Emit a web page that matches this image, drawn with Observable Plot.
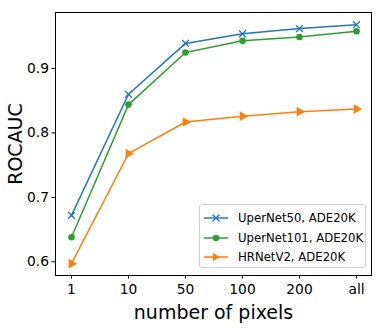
<!DOCTYPE html>
<html>
<head>
<meta charset="utf-8">
<script src="https://cdn.jsdelivr.net/npm/d3@7"></script>
<script src="https://cdn.jsdelivr.net/npm/@observablehq/plot@0.6"></script>
<style>
  body { margin: 0; background: #fff; }
  #wrap { position: relative; width: 382px; height: 332px; font-family: "DejaVu Sans", sans-serif; }
  #legend { position: absolute; left: 199px; top: 204px; width: 165px; height: 62px;
    border: 1px solid #d0d0d0; border-radius: 3px; background: rgba(255,255,255,0.85);
    font-family: "DejaVu Sans", sans-serif; font-size: 11.7px; color: #000; }
  .row { position: absolute; left: 4px; height: 16px; display: flex; align-items: center; }
  .row svg { display: block; }
  .row span { margin-left: 10px; white-space: nowrap; }
</style>
</head>
<body>
<div id="wrap"><div id="legend"></div></div>
<script>
const categories = ["1", "10", "50", "100", "200", "all"];
const seriesNames = ["UperNet50, ADE20K", "UperNet101, ADE20K", "HRNetV2, ADE20K"];
const uperNet50 = [0.672, 0.860, 0.939, 0.954, 0.962, 0.968];
const uperNet101 = [0.638, 0.844, 0.925, 0.943, 0.949, 0.958];
const hrNetV2 = [0.597, 0.768, 0.817, 0.826, 0.833, 0.837];
const yTicks = [0.6, 0.7, 0.8, 0.9];
const colors = ["#1f77b4", "#2ca02c", "#ff7f0e"];

const values = [uperNet50, uperNet101, hrNetV2];
const data = [];
values.forEach((vals, s) => vals.forEach((v, i) => data.push({series: seriesNames[s], cat: categories[i], v})));
const bySeries = s => data.filter(d => d.series === seriesNames[s]);

const chart = Plot.plot({
  width: 382, height: 332,
  marginLeft: 55, marginRight: 11, marginTop: 12, marginBottom: 57,
  style: {fontFamily: "DejaVu Sans, sans-serif", background: "#fff", color: "#000"},
  x: {type: "point", domain: categories, padding: 0.26, label: null},
  y: {domain: [0.5787, 0.987], label: null},
  marks: [
    Plot.axisY({ticks: yTicks, tickFormat: d3.format(".1f"), tickSize: 3.5, tickPadding: 3, fontSize: 13.8, label: null}),
    Plot.axisY({ticks: [], tickSize: 0, label: "ROCAUC", labelAnchor: "center", labelArrow: "none", labelOffset: 47, fontSize: 19}),
    Plot.axisX({tickSize: 3.5, tickPadding: 5, fontSize: 13.8, label: null}),
    Plot.axisX({ticks: [], tickSize: 0, label: "number of pixels", labelAnchor: "center", labelArrow: "none", labelOffset: 43, fontSize: 19}),
    ...[0, 1, 2].map(s => Plot.line(bySeries(s), {x: "cat", y: "v", stroke: colors[s], strokeWidth: 1.5})),
    Plot.dot(bySeries(0), {x: "cat", y: "v", symbol: "times", stroke: colors[0], strokeWidth: 1.3, r: 3.2}),
    Plot.dot(bySeries(1), {x: "cat", y: "v", symbol: "circle", fill: colors[1], stroke: "none", r: 3.3}),
    Plot.dot(bySeries(2), {x: "cat", y: "v", symbol: "triangle", fill: colors[2], stroke: "none", r: 3.6, rotate: 90}),
    Plot.frame({stroke: "#000", strokeWidth: 1})
  ]
});
document.getElementById("wrap").prepend(chart);

// legend
const legend = document.getElementById("legend");
const markerSvg = [
  c => `<line x1="8.5" y1="3.5" x2="15.5" y2="10.5" stroke="${c}" stroke-width="1.2"/><line x1="8.5" y1="10.5" x2="15.5" y2="3.5" stroke="${c}" stroke-width="1.2"/>`,
  c => `<circle cx="12" cy="7" r="3.2" fill="${c}"/>`,
  c => `<path d="M9,3 L16,7 L9,11 Z" fill="${c}"/>`
];
seriesNames.forEach((name, s) => {
  const row = document.createElement("div");
  row.className = "row";
  row.style.top = (5 + s * 19.7) + "px";
  row.innerHTML = `<svg width="24" height="14"><line x1="0" y1="7" x2="24" y2="7" stroke="${colors[s]}" stroke-width="1.5"/>${markerSvg[s](colors[s])}</svg><span>${name}</span>`;
  legend.appendChild(row);
});
</script>
</body>
</html>
